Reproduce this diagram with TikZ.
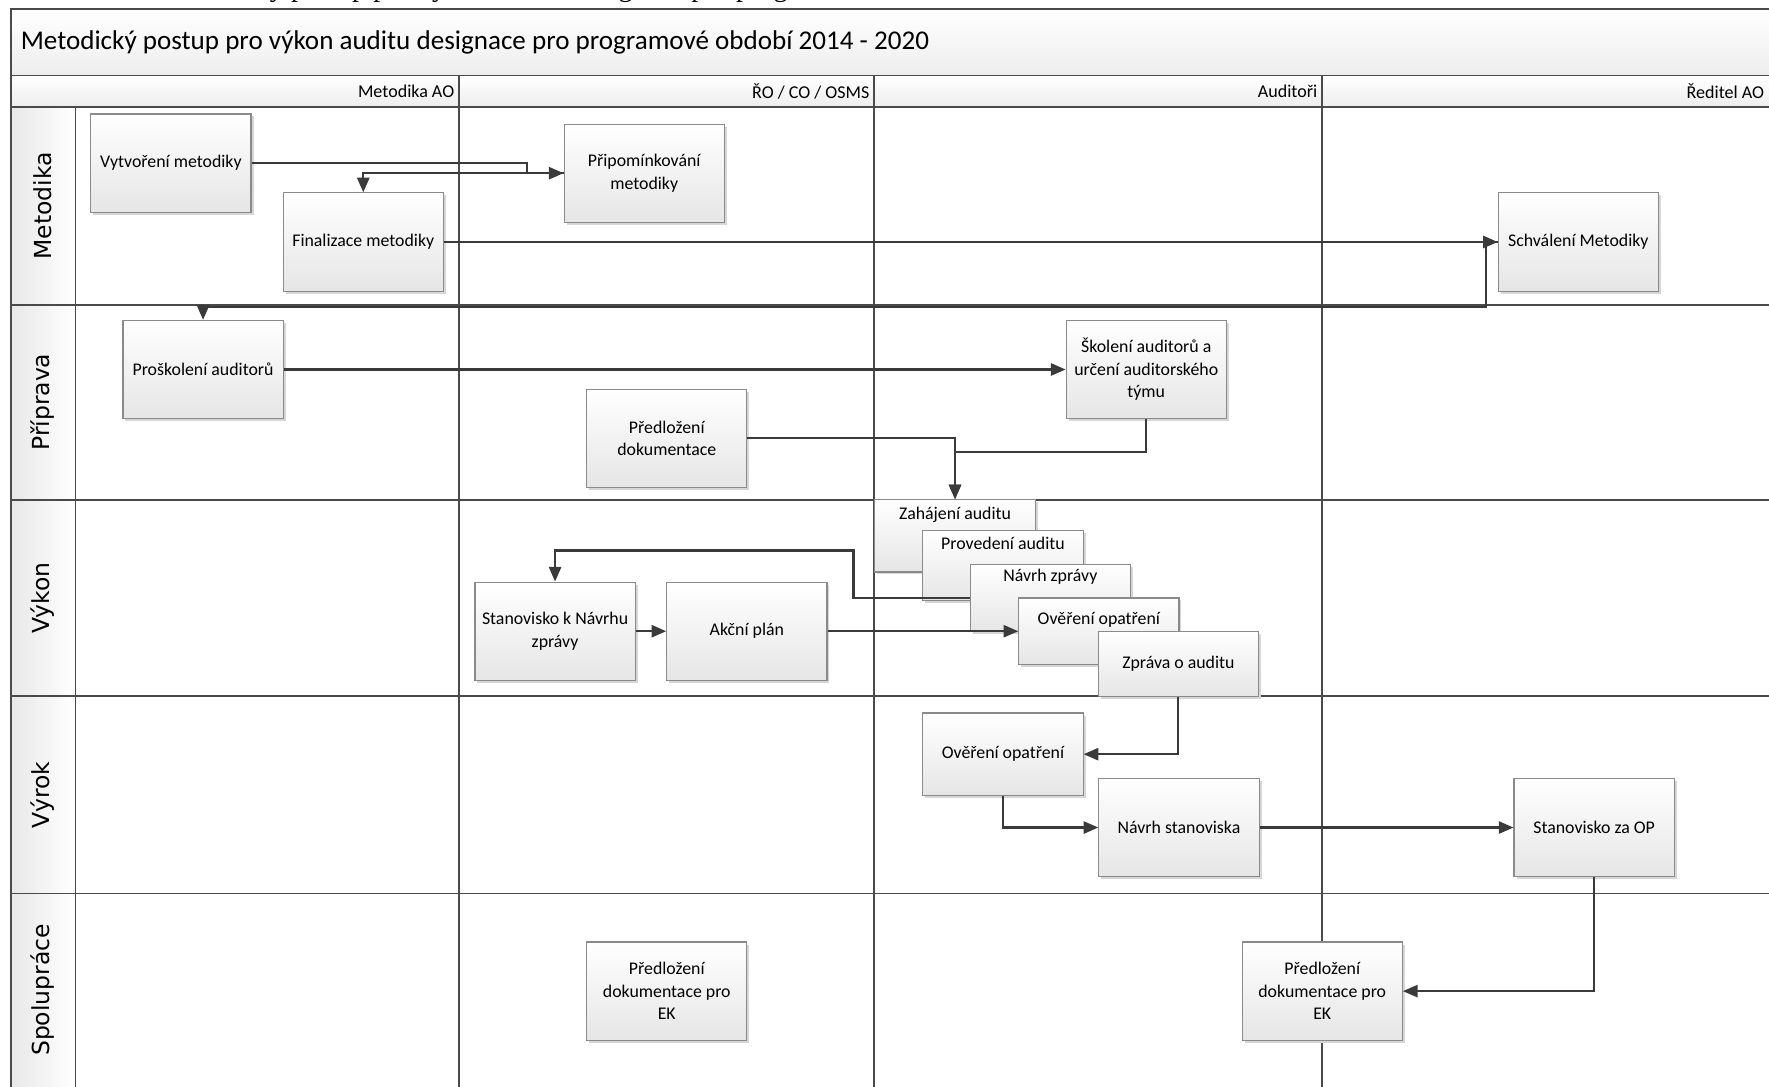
\documentclass[tikz,border=0pt]{standalone}
\usepackage{fontspec}
\setmainfont{Carlito}
\newfontfamily\lanefont{DejaVu Sans}
\newfontfamily\capfont{Liberation Serif}
\usetikzlibrary{arrows.meta,shadows}
\definecolor{lanec}{HTML}{4A4A4A}
\definecolor{connc}{HTML}{3A3A3A}
\definecolor{boxb}{HTML}{8A8A8A}
\tikzset{
  procbox/.style={draw=boxb, line width=0.5pt, top color=white, bottom color=black!10,
    minimum width=71pt, minimum height=43.5pt, inner sep=1pt, align=center,
    font=\fontsize{7.9}{10}\selectfont,
    drop shadow={shadow xshift=1.1pt, shadow yshift=-1.1pt, fill=black!16, opacity=1}},
  boxtxt/.style={inner sep=0pt, align=center, font=\fontsize{7.9}{10}\selectfont},
  lanetxt/.style={rotate=90, inner sep=0pt, font=\lanefont\fontsize{10.4}{12}\selectfont},
  headtxt/.style={anchor=east, inner sep=0pt, font=\fontsize{8}{10}\selectfont},
  gridline/.style={draw=lanec, line width=0.8pt},
  flow/.style={draw=connc, line width=0.95pt, -{Triangle[length=6.5pt,width=5.4pt]}}
}
\begin{document}
\begin{tikzpicture}[x=0.5pt,y=-0.5pt]
\useasboundingbox (0,0) rectangle (1568,963);
% cut-off caption above the frame
\begin{scope}
\clip (0,0) rectangle (1568,8);
\node[anchor=base west, inner sep=0pt, font=\capfont\fontsize{12.5}{14}\selectfont] (caption) at (143,-3.5) {Metodický postup pro výkon auditu designace pro programové období 2014 - 2020};
\end{scope}
% backgrounds
\shade[top color=white, bottom color=black!7] (10,8) rectangle (1580,67);
\shade[top color=white, bottom color=black!7] (10,67) rectangle (1580,95);
\shade[left color=black!9, right color=white] (10,95) rectangle (67,975);
% grid
\draw[gridline] (10,975) -- (10,8) -- (1580,8);
\draw[gridline] (10,67) -- (1580,67);
\draw[gridline] (10,95) -- (1580,95);
\draw[gridline] (67,95) -- (67,975);
\foreach \xx in {407,775,1172} \draw[gridline] (\xx,67) -- (\xx,975);
\foreach \yy in {270,443,617,792} \draw[gridline] (10,\yy) -- (1580,\yy);
% title and headers
\node[anchor=west, inner sep=0pt, font=\fontsize{12}{14}\selectfont] (title) at (18,38) {Metodický postup pro výkon auditu designace pro programové období 2014 - 2020};
\node[headtxt] (h1) at (403,81) {Metodika AO};
\node[headtxt] (h2) at (771,81) {ŘO / CO / OSMS};
\node[headtxt] (h3) at (1168,81) {Auditoři};
\node[headtxt] (h4) at (1564,81) {Ředitel AO};
% lane labels
\node[lanetxt] (l1) at (38,182.5) {Metodika};
\node[lanetxt] (l2) at (38,356.5) {Příprava};
\node[lanetxt] (l3) at (38,530) {Výkon};
\node[lanetxt] (l4) at (38,704.5) {Výrok};
\node[lanetxt] (l5) at (38,877.5) {Spolupráce};
% process boxes
\node[procbox] (vyt) at (151.5,144.5) {Vytvoření metodiky};
\node[procbox] (prip) at (571,153.5) {Připomínkování\\metodiky};
\node[procbox] (fin) at (322,214.5) {Finalizace metodiky};
\node[procbox] (schv) at (1399,214.5) {Schválení Metodiky};
\node[procbox] (prosk) at (180,327.5) {Proškolení auditorů};
\node[procbox] (skol) at (1016,327.5) {Školení auditorů a\\určení auditorského\\týmu};
\node[procbox] (predl) at (591,388.5) {Předložení\\dokumentace};
\node[procbox, minimum height=32pt] (zah) at (846.5,475) {};
\node[boxtxt] (zaht) at (846.5,456.5) {Zahájení auditu};
\node[procbox, minimum height=31pt] (prov) at (889,501) {};
\node[boxtxt] (provt) at (889,482) {Provedení auditu};
\node[procbox, minimum height=30pt] (navrh) at (931,530) {};
\node[boxtxt] (navrht) at (931,511) {Návrh zprávy};
\node[procbox, minimum height=29.5pt] (over1) at (974,559.5) {};
\node[boxtxt] (over1t) at (974,549.5) {Ověření opatření};
\node[procbox, minimum height=28.5pt] (zpr) at (1044.5,588.5) {Zpráva o auditu};
\node[procbox] (stan) at (492,559.5) {Stanovisko k Návrhu\\zprávy};
\node[procbox] (akc) at (662,559.5) {Akční plán};
\node[procbox, minimum height=36.5pt] (over2) at (889,668.5) {Ověření opatření};
\node[procbox] (navst) at (1045,733.5) {Návrh stanoviska};
\node[procbox] (stanop) at (1413,733.5) {Stanovisko za OP};
\node[procbox] (ek1) at (591,878.5) {Předložení\\dokumentace pro\\EK};
\node[procbox] (ek2) at (1172,878.5) {Předložení\\dokumentace pro\\EK};
% connectors
\draw[flow] (vyt.east) -- ++(244,0) |- (prip.west);
\draw[flow] (prip.west) -| (fin.north);
\draw[flow] (fin.east) -- (schv.west);
\draw[flow] (schv.west) -- ++(-10,0) -- ++(0,57.5) -| (prosk.north);
\draw[flow] (prosk.east) -- (skol.west);
\draw[flow] (skol.south) -- ++(0,29) -| (zah.north);
\draw[flow] (predl.east) -| (zah.north);
\draw[flow] (navrh.west) -- ++(-103,0) -- ++(0,-42) -| (stan.north);
\draw[flow] (stan.east) -- (akc.west);
\draw[flow] (akc.east) -- (over1.west);
\draw[flow] (zpr.south) |- (over2.east);
\draw[flow] (over2.south) |- (navst.west);
\draw[flow] (navst.east) -- (stanop.west);
\draw[flow] (stanop.south) |- (ek2.east);
\end{tikzpicture}
\end{document}
